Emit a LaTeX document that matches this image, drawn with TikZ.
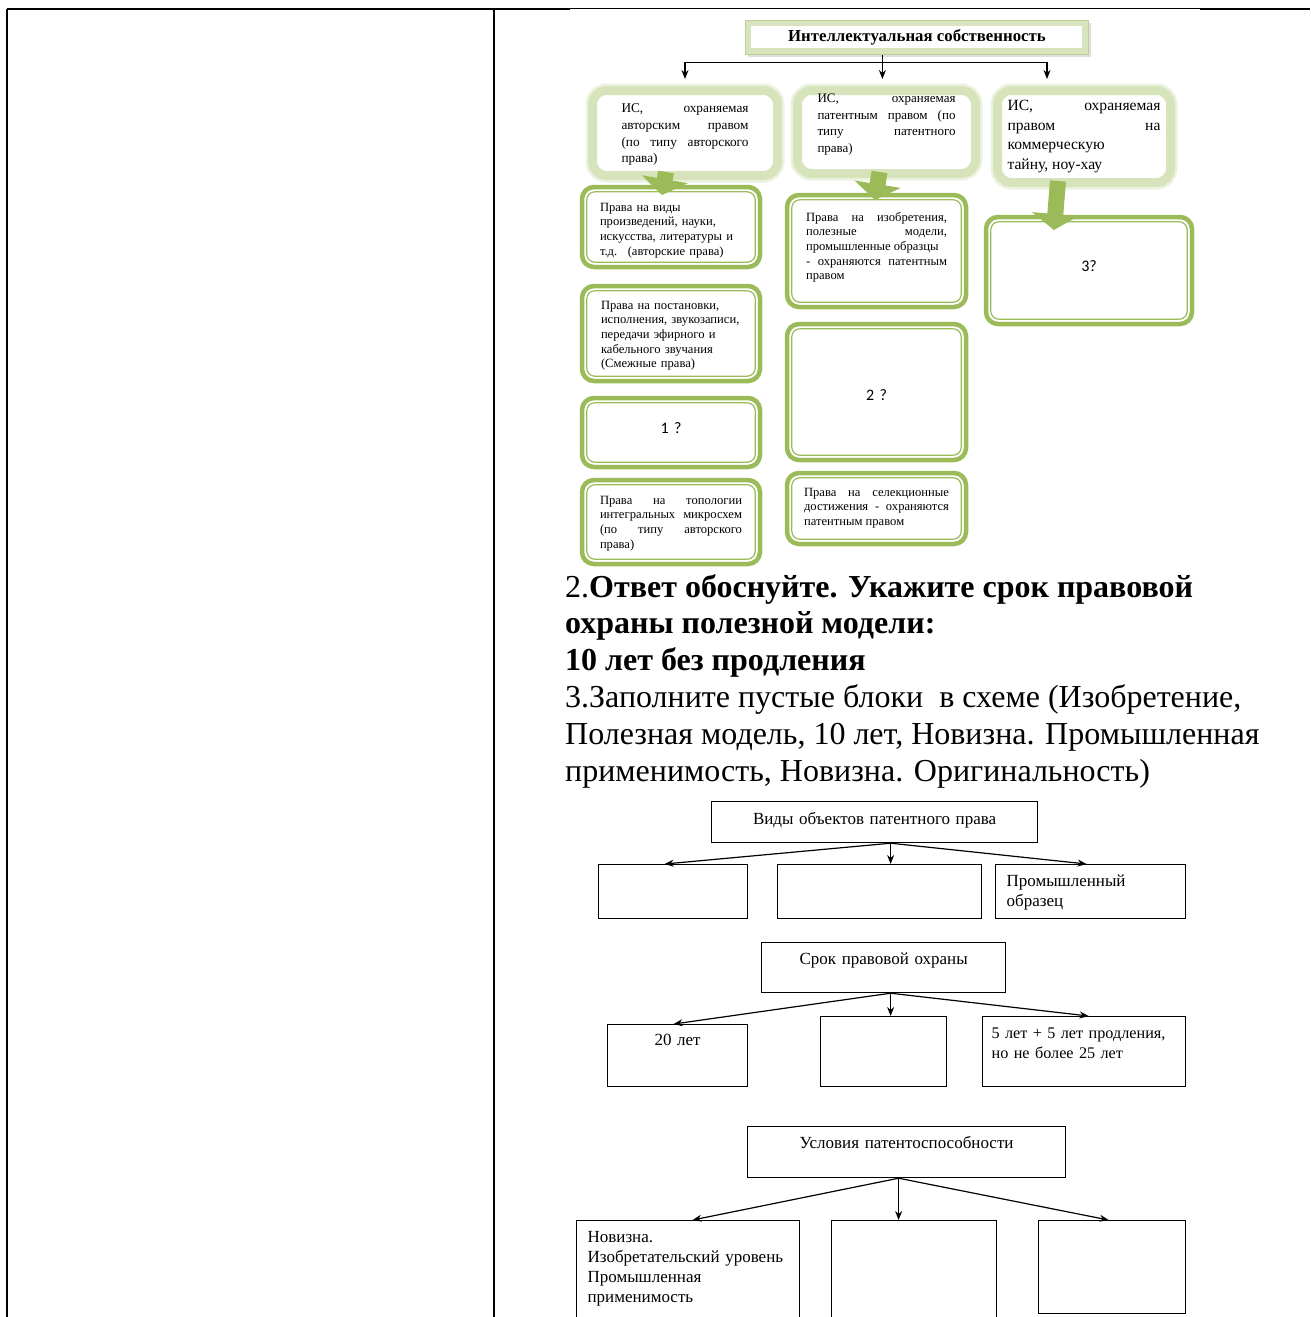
\documentclass[tikz,border=0pt]{standalone}
\usepackage{fontspec}
\setmainfont{Liberation Serif}
\newfontfamily\calib{Carlito}
\usetikzlibrary{arrows.meta,positioning,shadows}

\definecolor{ogreen}{RGB}{155,187,89}
\definecolor{isline}{RGB}{214,227,187}
\definecolor{isglow}{RGB}{236,242,224}
\definecolor{ipfill}{RGB}{215,228,189}
\definecolor{ipline}{RGB}{190,208,150}

\begin{document}
\begin{tikzpicture}[x=1pt,y=-1pt,>={Stealth[length=9pt,width=7pt]},
  isbox/.style={anchor=north west,rounded corners=14,fill=white,draw=isline,line width=9,
    preaction={draw=isglow,line width=14},inner ysep=0,align=justify,
    font=\fontsize{13.3}{16.8}\selectfont},
  gbox/.style={rounded corners=12,fill=white,draw=ogreen,line width=4.5,inner ysep=0,outer sep=0,
    path picture={\draw[ogreen,line width=1.2,rounded corners=8]
      ([shift={(4.8,4.8)}]path picture bounding box.north west) rectangle
      ([shift={(-4.8,-4.8)}]path picture bounding box.south east);},
    font=\fontsize{12.6}{14.7}\selectfont},
  qbox/.style={gbox,align=center,inner xsep=0,font=\calib\fontsize{16}{18}\selectfont},
  plainbox/.style={anchor=north west,draw,line width=1.2,inner sep=0,
    font=\fontsize{17}{20}\selectfont},
  fatarrow/.style={ogreen,line width=16,-{Triangle[length=16pt 0 0,width=46pt 0 0]}},
  link/.style={->,line width=1.2}]

  \useasboundingbox (0,0) rectangle (1310,1317);
  \clip (0,0) rectangle (1310,1317);

  % table frame
  \draw[line width=2] (7,9) -- (570,9);
  \draw[line width=1] (570,8.5) -- (1200,8.5);
  \draw[line width=2.5] (1200,9) -- (1310,9);
  \draw[line width=2] (7,9) -- (7,1317);
  \draw[line width=2.2] (494,9) -- (494,1317);

  % intellectual property scheme
  \node[anchor=north west,minimum width=343,minimum height=34,inner sep=0,fill=ipfill,
    draw=ipline,line width=0.8,drop shadow={shadow xshift=3pt,shadow yshift=-3pt,fill=black!25},
    path picture={\fill[white] ([shift={(6,6)}]path picture bounding box.north west) rectangle
      ([shift={(-6,-6)}]path picture bounding box.south east);},
    font=\bfseries\fontsize{16.8}{18}\selectfont] (ip) at (745,20) {Интеллектуальная собственность};

  \node[isbox,inner xsep=29,text width=127,text height=22,text depth=63] (is1) at (588,86)
    {ИС, охраняемая\linebreak авторским правом\linebreak (по типу авторского\linebreak права)};
  \node[isbox,inner xsep=20,text width=138,text height=12,text depth=71,
    font=\fontsize{13}{16.5}\selectfont] (is2) at (793,86)
    {ИС, охраняемая\linebreak патентным правом (по\linebreak типу патентного\linebreak права)};
  \node[isbox,inner xsep=10,text width=153,text height=20,text depth=72,
    font=\fontsize{15.6}{19.5}\selectfont] (is3) at (993,86)
    {ИС, охраняемая\linebreak правом на\linebreak коммерческую\\ тайну, ноу-хау};

  \node[gbox,anchor=north west,align=left,inner xsep=18,text width=142,text height=24,text depth=56]
    (pa1) at (582,187) {Права на виды\\ произведений, науки,\\ искусства, литературы и\\ т.д.~ (авторские права)};
  \node[gbox,below=19pt of pa1,align=left,inner xsep=19,text width=140,text height=23,text depth=72]
    (pa2) {Права на постановки,\\ исполнения, звукозаписи,\\ передачи эфирного и\\ кабельного звучания\\ (Смежные права)};
  \node[qbox,below=17pt of pa2,text width=178,text height=35,text depth=34] (pa3) {1 ?\hspace*{18pt}};
  \node[gbox,below=13pt of pa3,align=justify,inner xsep=18,text width=142,text height=24,text depth=60]
    (pa4) {Права на топологии\linebreak интегральных микросхем\linebreak (по типу авторского\linebreak права)};

  \node[gbox,anchor=north west,align=justify,inner xsep=19,text width=141,text height=26,text depth=86]
    (pm1) at (787,195) {Права на изобретения,\linebreak полезные модели,\linebreak промышленные образцы\\ - охраняются патентным\linebreak правом};
  \node[qbox,below=17pt of pm1,text width=179,text height=76,text depth=60] (pm2) {2 ?\hspace*{28pt}};
  \node[gbox,below=13pt of pm2,align=justify,inner xsep=17,text width=145,text height=23,text depth=48]
    (pm3) {Права на селекционные\linebreak достижения - охраняются\linebreak патентным правом};

  \node[qbox,anchor=north west,text width=206,text height=54,text depth=53] (pr1) at (986,217) {3?\hspace*{30pt}};

  \draw[line width=1.2] ([shift={(-34.5,0)}]ip.south) -- ++(0,8) coordinate (hub);
  \draw[link,shorten >=7] (hub) -| (is1.north);
  \draw[link,shorten >=7] (hub) -- (hub |- is2.north);
  \draw[link,shorten >=7] (hub) -| ([shift={(-37,0)}]is3.north);

  \draw[fatarrow] ([shift={(-19,-8)}]is1.south) -- ([shift={(-9,8)}]pa1.north);
  \draw[fatarrow] ([shift={(-7,-6)}]is2.south) -- ([shift={(-1.5,5)}]pm1.north);
  \draw[fatarrow] ([shift={(-26,-6)}]is3.south) -- ([shift={(-35,13)}]pr1.north);

  % task text
  \node[anchor=base west,align=left,inner sep=0,font=\fontsize{32}{36.8}\selectfont] (task) at (565,781)
    {2.\textbf{Ответ обоснуйте. Укажите срок правовой}\\
     \textbf{охраны полезной модели:}\\
     \textbf{10 лет без продления}\\
     3.Заполните пустые блоки\ \ в схеме (Изобретение,\\
     Полезная модель, 10 лет, Новизна. Промышленная\\
     применимость, Новизна. Оригинальность)};

  % patent law schemes
  \node[plainbox,align=center,text width=326,text height=23,text depth=18] (pv) at (711,801)
    {Виды объектов патентного права};
  \node[plainbox,text width=149,text height=27,text depth=27] (b1) at (598,864) {};
  \node[plainbox,text width=204,text height=27,text depth=27] (b2) at (777,864) {};
  \node[plainbox,align=left,inner xsep=11,text width=168,text height=22,text depth=32] (b3) at (995,864)
    {Промышленный\\ образец};

  \draw[link] ([shift={(16,0)}]pv.south) -- ([shift={(-8.5,0)}]b1.north);
  \draw[link] ([shift={(16,0)}]pv.south) -- ([shift={(11,0)}]b2.north);
  \draw[link] ([shift={(16,0)}]pv.south) -- ([shift={(-4,0)}]b3.north);

  \node[plainbox,align=center,text width=244,text height=22,text depth=28] (srok) at (761,942)
    {Срок правовой охраны};
  \node[plainbox,align=center,text width=140,text height=21,text depth=41] (c1) at (607,1024) {20 лет};
  \node[plainbox,text width=126,text height=35,text depth=35] (c2) at (820,1016) {};
  \node[plainbox,align=left,inner xsep=9,text width=185,text height=22,text depth=48,
    font=\fontsize{16.2}{20}\selectfont] (c3) at (982,1016)
    {5 лет + 5 лет продления,\\ но не более 25 лет};

  \draw[link] ([shift={(7,0)}]srok.south) -- ([shift={(-4,0)}]c1.north);
  \draw[link] ([shift={(7,0)}]srok.south) -- ([shift={(7,0)}]c2.north);
  \draw[link] ([shift={(7,0)}]srok.south) -- ([shift={(4.5,0)}]c3.north);

  \node[plainbox,align=center,text width=318,text height=22,text depth=29] (usl) at (747,1126)
    {Условия патентоспособности};
  \node[plainbox,align=left,inner xsep=11,text width=201,text height=22,text depth=100] (d1) at (576,1220)
    {Новизна.\\ Изобретательский уровень\\ Промышленная\\ применимость};
  \node[plainbox,text width=165,text height=50,text depth=55] (d2) at (831,1220) {};
  \node[plainbox,text width=147,text height=46,text depth=47] (d3) at (1038,1220) {};

  \draw[link] ([shift={(-8,0)}]usl.south) -- ([shift={(4.5,0)}]d1.north);
  \draw[link] ([shift={(-8,0)}]usl.south) -- ([shift={(-15.5,0)}]d2.north);
  \draw[link] ([shift={(-8,0)}]usl.south) -- ([shift={(-3.5,0)}]d3.north);
\end{tikzpicture}
\end{document}
